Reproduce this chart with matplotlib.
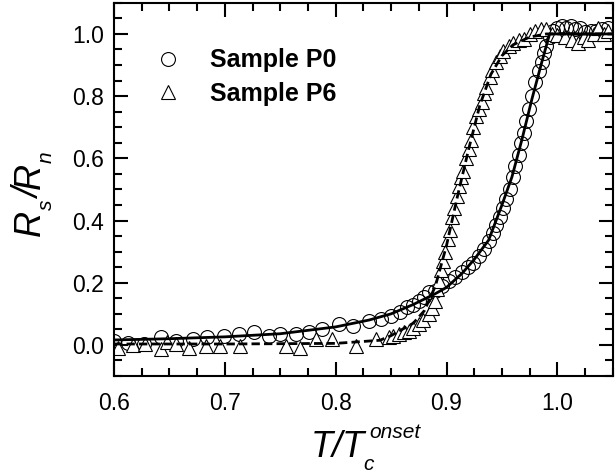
import matplotlib
matplotlib.use('Agg')
import matplotlib.pyplot as plt
from matplotlib.ticker import MultipleLocator
from matplotlib.transforms import ScaledTranslation

plt.rcParams['font.family'] = ['Liberation Sans', 'DejaVu Sans']

# Sample P0 (circles)
p0_t = [0.600, 0.613, 0.627, 0.642, 0.656, 0.671, 0.684, 0.699, 0.713, 0.726,
        0.740, 0.750, 0.764, 0.776, 0.788, 0.803, 0.816, 0.830, 0.841, 0.850,
        0.858, 0.864, 0.870, 0.875, 0.880, 0.884, 0.890, 0.896, 0.902, 0.908,
        0.914, 0.919, 0.924, 0.929, 0.934, 0.938, 0.942, 0.945, 0.948, 0.951,
        0.954, 0.957, 0.960, 0.962, 0.965, 0.967, 0.970, 0.972, 0.974, 0.977,
        0.980, 0.983, 0.986, 0.988, 0.990, 0.993, 0.996, 1.000, 1.004, 1.008,
        1.012, 1.016, 1.020, 1.025, 1.030, 1.035, 1.040, 1.046]
p0_r = [0.012, 0.007, 0.004, 0.027, 0.013, 0.018, 0.024, 0.029, 0.035, 0.040,
        0.030, 0.035, 0.035, 0.040, 0.051, 0.067, 0.061, 0.078, 0.083, 0.094,
        0.105, 0.121, 0.130, 0.142, 0.155, 0.169, 0.175, 0.190, 0.207, 0.220,
        0.234, 0.250, 0.265, 0.285, 0.310, 0.335, 0.360, 0.385, 0.410, 0.440,
        0.470, 0.500, 0.540, 0.575, 0.610, 0.650, 0.680, 0.720, 0.760, 0.800,
        0.845, 0.880, 0.910, 0.940, 0.960, 0.990, 1.010, 1.020, 1.025, 1.020,
        1.025, 1.015, 1.020, 1.005, 1.010, 1.010, 1.015, 1.020]

# Sample P6 (triangles)
p6_t = [0.604, 0.617, 0.628, 0.642, 0.648, 0.656, 0.668, 0.683, 0.696, 0.714,
        0.755, 0.768, 0.782, 0.797, 0.818, 0.836, 0.848, 0.852, 0.857, 0.862,
        0.866, 0.870, 0.875, 0.879, 0.884, 0.887, 0.890, 0.891, 0.893, 0.895,
        0.897, 0.899, 0.901, 0.903, 0.905, 0.907, 0.909, 0.911, 0.913, 0.915,
        0.918, 0.920, 0.922, 0.924, 0.927, 0.929, 0.932, 0.934, 0.936, 0.939,
        0.941, 0.945, 0.948, 0.951, 0.956, 0.960, 0.965, 0.970, 0.975, 0.980,
        0.985, 0.990, 0.995, 1.000, 1.007, 1.013, 1.019, 1.024, 1.028, 1.033,
        1.037, 1.042, 1.046]
p6_r = [-0.009, 0.000, 0.002, -0.014, 0.010, 0.002, -0.009, -0.003, -0.003, -0.003,
        -0.003, -0.009, 0.018, 0.018, -0.005, 0.018, 0.024, 0.030, 0.035, 0.040,
        0.045, 0.055, 0.067, 0.080, 0.099, 0.120, 0.140, 0.180, 0.207, 0.240,
        0.270, 0.300, 0.340, 0.370, 0.410, 0.440, 0.480, 0.510, 0.540, 0.560,
        0.600, 0.630, 0.660, 0.700, 0.735, 0.760, 0.780, 0.810, 0.830, 0.860,
        0.885, 0.910, 0.930, 0.945, 0.960, 0.970, 0.980, 0.985, 1.000, 1.010,
        1.015, 1.015, 1.000, 0.995, 0.990, 0.980, 0.970, 0.990, 0.980, 1.000,
        1.020, 1.000, 1.010]

# fit curves
fit0_t = [0.600, 0.650, 0.700, 0.750, 0.800, 0.830, 0.850, 0.870, 0.890, 0.900,
          0.914, 0.925, 0.938, 0.950, 0.959, 0.968, 0.977, 0.986, 0.993, 1.050]
fit0_r = [0.016, 0.020, 0.026, 0.036, 0.058, 0.080, 0.100, 0.130, 0.165, 0.185,
          0.230, 0.275, 0.337, 0.450, 0.540, 0.660, 0.790, 0.910, 1.000, 1.000]
fit6_t = [0.600, 0.700, 0.800, 0.840, 0.850, 0.860, 0.870, 0.880, 0.890, 0.900,
          0.910, 0.920, 0.930, 0.940, 0.950, 0.960, 0.975, 0.990, 1.050]
fit6_r = [0.003, 0.003, 0.005, 0.015, 0.030, 0.050, 0.070, 0.110, 0.190, 0.320,
          0.480, 0.630, 0.770, 0.870, 0.930, 0.965, 0.990, 1.000, 1.000]

fig = plt.figure(figsize=(6.15, 4.73), dpi=100)
ax = fig.add_axes([0.1854, 0.205, 0.811, 0.789])

ax.plot(p0_t, p0_r, linestyle='none', marker='o', markersize=10,
        markerfacecolor='none', markeredgecolor='black', markeredgewidth=0.8,
        label='Sample P0')
ax.plot(p6_t, p6_r, linestyle='none', marker='^', markersize=10.5,
        markerfacecolor='white', markeredgecolor='black', markeredgewidth=0.8,
        label='Sample P6')
ax.plot(fit0_t, fit0_r, color='black', linewidth=2.0)
ax.plot(fit6_t, fit6_r, color='black', linewidth=2.0, linestyle=(0, (3, 1.5)))

ax.set_xlim(0.6, 1.05)
ax.set_ylim(-0.1, 1.1)
ax.xaxis.set_major_locator(MultipleLocator(0.1))
ax.xaxis.set_minor_locator(MultipleLocator(0.025))
ax.yaxis.set_major_locator(MultipleLocator(0.2))
ax.yaxis.set_minor_locator(MultipleLocator(0.05))
ax.xaxis.set_major_formatter(plt.FormatStrFormatter('%.1f'))
ax.yaxis.set_major_formatter(plt.FormatStrFormatter('%.1f'))

for s in ax.spines.values():
    s.set_linewidth(1.5)
ax.tick_params(which='both', direction='in', top=True, right=True, width=1.5,
               labelsize=16.5)
ax.tick_params(which='major', length=10)
ax.tick_params(which='minor', length=6)
ax.tick_params(axis='x', which='major', pad=11.5)
ax.tick_params(axis='y', which='major', pad=7)

ax.legend(loc='upper left', bbox_to_anchor=(0.083, 0.878), frameon=False,
          prop={'weight': 'bold', 'size': 18}, handlelength=1.0,
          handletextpad=1.2, labelspacing=0.37, borderpad=0, borderaxespad=0,
          numpoints=1)

# axis titles built from pieces, Origin-style sub/superscripts
fig.canvas.draw()
r = fig.canvas.get_renderer()
px = 72.0 / fig.dpi


def piece(x, y, s, size, dx, dy, rot=0):
    tr = fig.transFigure + ScaledTranslation(dx * px / 72, dy * px / 72, fig.dpi_scale_trans)
    return fig.text(x, y, s, fontsize=size, style='italic', transform=tr,
                    ha='left', va='baseline', rotation=rot, rotation_mode='anchor')


# x label: T/T_c^onset, baseline 457 px from top
xb = 1 - 457 / 473.0
main = piece(0, xb, 'T/T', 26, 0, 0)
w_main = main.get_window_extent(r).width
sub = piece(0, xb, 'c', 15, w_main - 1, -13)
sup = piece(0, xb, 'onset', 15, w_main + 5, 19)
w_tot = w_main + 5 + sup.get_window_extent(r).width
x0 = (365.5 - w_tot / 2) / 615.0
for t in (main, sub, sup):
    t.set_x(x0)

# y label: R_s/R_n rotated, baseline at x=40 px
yb = 40 / 615.0
parts = [('R', 26, 0), ('s', 15, 12), ('/', 26, 0), ('R', 26, 0), ('n', 15, 12)]
texts = []
off = 0
for s, size, sh in parts:
    t = piece(yb, 0, s, size, sh, off, rot=90)
    t.set_x(yb)
    texts.append((t, off))
    off += t.get_window_extent(r).height
y_start = (473 - 193.5 - off / 2)
for t, o in texts:
    t.set_y(y_start / 473.0)

fig.savefig('out.png', dpi=100)
